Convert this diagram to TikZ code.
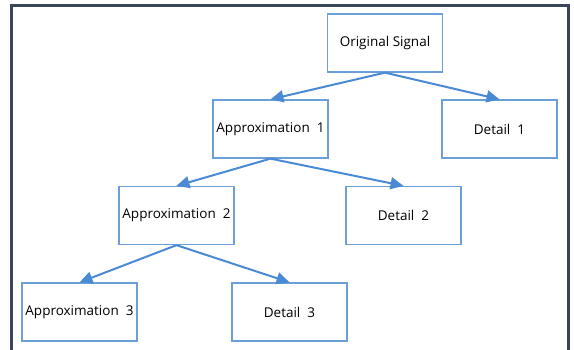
\documentclass[tikz,border=0pt]{standalone}
\usepackage{fontspec}
\setmainfont{Open Sans}
\usepackage{tikz}
\usepackage{xcolor}
\usetikzlibrary{shapes, arrows, arrows.meta, positioning}
\definecolor{boxblue}{HTML}{6A9FD8}
\definecolor{arrowblue}{HTML}{4A8AD4}
\definecolor{framegray}{HTML}{3A4658}

\begin{document}
\begin{tikzpicture}[x=1pt, y=-1pt, ->, >={Triangle[length=13pt,width=12pt]}, line width=0.5pt,
        sigbox/.style={rectangle, draw=boxblue, line width=1.3pt, inner sep=2pt, minimum width=115pt, minimum height=58pt, font=\fontsize{13.5}{16}\selectfont},
        flow/.style={draw=arrowblue, line width=2pt}]
        \useasboundingbox (0,0) rectangle (574,350);
        \draw [-, framegray, line width=3pt] (11,360) -- (11,6) -- (568,6) -- (568,360);
        \node [sigbox] (orig) at (385,43) {Original Signal};
        \node [sigbox] (appone) at (270.5,129) {Approximation~~1};
        \node [sigbox] (detone) at (499.5,129) {Detail~~1};
        \node [sigbox] (apptwo) at (176.5,215.5) {Approximation~~2};
        \node [sigbox] (dettwo) at (403.5,215.5) {Detail~~2};
        \node [sigbox] (appthree) at (79.5,312) {Approximation~~3};
        \node [sigbox] (detthree) at (289.5,312) {Detail~~3};
        \path (orig.south) edge [flow] (appone.north);
        \path (orig.south) edge [flow] (detone.north);
        \path (appone.south) edge [flow] (apptwo.north);
        \path (appone.south) edge [flow] (dettwo.north);
        \path (apptwo.south) edge [flow] (appthree.north);
        \path (apptwo.south) edge [flow] (detthree.north);
    \end{tikzpicture}
\end{document}
